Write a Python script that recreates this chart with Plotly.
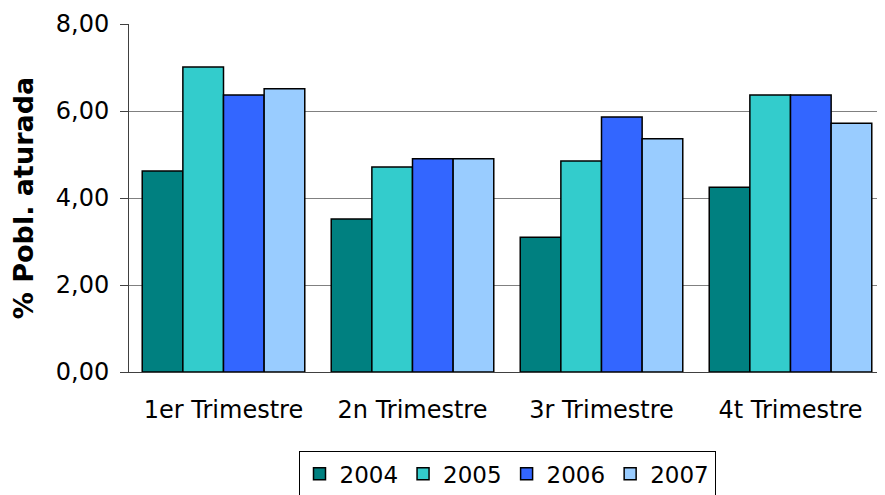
import plotly.graph_objects as go

quarters = ["1er Trimestre", "2n Trimestre", "3r Trimestre", "4t Trimestre"]
years = ["2004", "2005", "2006", "2007"]
values_2004 = [4.62, 3.52, 3.10, 4.25]
values_2005 = [7.01, 4.71, 4.85, 6.37]
values_2006 = [6.37, 4.90, 5.86, 6.37]
values_2007 = [6.51, 4.90, 5.36, 5.72]
colors = ["#008080", "#33CCCC", "#3366FF", "#99CCFF"]

series = [values_2004, values_2005, values_2006, values_2007]

fig = go.Figure()
for year, vals, color in zip(years, series, colors):
    fig.add_trace(go.Bar(
        x=quarters, y=vals, name=year,
        marker={"color": color, "line": {"color": "black", "width": 1.5}},
    ))

# the page body keeps its default 8px margin, so the figure is sized to fit inside it
font = "DejaVu Sans, Verdana, sans-serif"
fig.update_layout(
    width=877, height=487,
    margin={"l": 121, "r": 0, "t": 16, "b": 123, "autoexpand": False},
    paper_bgcolor="white", plot_bgcolor="white",
    barmode="group", bargap=0.14, bargroupgap=0,
    separators=",.",
    font={"family": font, "size": 24, "color": "black"},
    legend={
        "orientation": "h", "x": 0.5, "xanchor": "center",
        "y": -0.228, "yanchor": "top",
        "bordercolor": "black", "borderwidth": 1,
        "font": {"size": 23}, "itemwidth": 30,
        "tracegroupgap": 0,
    },
)
fig.update_yaxes(
    range=[0, 8], dtick=2, tickformat=".2f", automargin=False,
    showgrid=True, gridcolor="#808080", gridwidth=1,
    showline=True, linecolor="#404040", linewidth=1,
    ticks="outside", ticklen=8, tickcolor="#404040",
    tickfont={"size": 24}, ticklabelstandoff=6,
    title={"text": "<b>% Pobl. aturada</b>", "font": {"size": 27}, "standoff": 25},
    zeroline=False,
)
fig.update_xaxes(
    automargin=False,
    showline=True, linecolor="#404040", linewidth=1,
    ticks="", tickfont={"size": 24}, ticklabelstandoff=16,
)

fig.write_html("out.html")
